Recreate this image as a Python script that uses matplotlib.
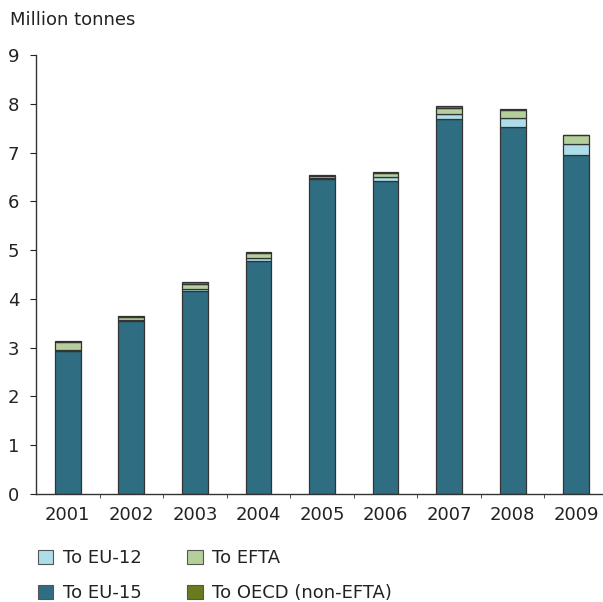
import matplotlib
matplotlib.use("Agg")
import matplotlib.pyplot as plt
from matplotlib.patches import Patch
from matplotlib.ticker import FixedLocator
import numpy as np

years = ["2001", "2002", "2003", "2004", "2005", "2006", "2007", "2008", "2009"]
eu15 = [2.94, 3.55, 4.16, 4.77, 6.45, 6.41, 7.69, 7.53, 6.95]
eu12 = [0.01, 0.01, 0.05, 0.06, 0.02, 0.09, 0.11, 0.17, 0.22]
efta = [0.17, 0.07, 0.09, 0.12, 0.05, 0.09, 0.12, 0.17, 0.18]
oecd = [0.02, 0.02, 0.04, 0.01, 0.02, 0.01, 0.03, 0.03, 0.02]
series_labels = ["To EU-15", "To EU-12", "To EFTA", "To OECD (non-EFTA)"]
colors = ["#2F6E82", "#ADDDE8", "#B5CF9A", "#6A7A1F"]

plt.rcParams['font.family'] = ['DejaVu Sans']
fig = plt.figure(figsize=(6.03, 6.02), dpi=100)
W, H = 603, 602
ax = fig.add_axes([36 / W, 1 - 494 / H, (608 - 36) / W, (494 - 55) / H])

x = np.arange(len(years))
bottom = np.zeros(len(years))
for vals, lab, col in zip([eu15, eu12, efta, oecd], series_labels, colors):
    vals = np.array(vals)
    ax.bar(x, vals, 0.405, bottom=bottom, color=col, edgecolor="#333333",
           linewidth=0.9, label=lab)
    bottom += vals

fs = 13
ax.set_xlim(-0.5, len(years) - 0.5)
ax.set_ylim(0, 9)
ax.set_yticks(range(0, 10))
ax.set_xticks(x)
ax.set_xticklabels(years)
ax.xaxis.set_minor_locator(FixedLocator(np.arange(0.5, len(years) - 0.5, 1)))
ax.tick_params(axis='x', which='major', length=0, pad=9, labelsize=fs, colors='#222222')
ax.tick_params(axis='x', which='minor', length=3, direction='out', color='#333333')
ax.tick_params(axis='y', length=4, direction='out', pad=8, labelsize=fs, colors='#222222')
for s in ['top', 'right']:
    ax.spines[s].set_visible(False)
for s in ['left', 'bottom']:
    ax.spines[s].set_color('#333333')
    ax.spines[s].set_linewidth(1)

fig.text(10 / W, 1 - 20 / H, "Million tonnes", fontsize=fs, va='center', ha='left', color='#222222')

hl = [Patch(facecolor=colors[1], edgecolor='#555555', linewidth=0.8),
      Patch(facecolor=colors[0], edgecolor='#555555', linewidth=0.8),
      Patch(facecolor=colors[2], edgecolor='#555555', linewidth=0.8),
      Patch(facecolor=colors[3], edgecolor='#555555', linewidth=0.8)]
ll = [series_labels[1], series_labels[0], series_labels[2], series_labels[3]]
fig.legend(hl, ll, ncol=2, loc='upper left', bbox_to_anchor=(29 / W, 1 - 540 / H),
           frameon=False, fontsize=fs, handlelength=0.85, handleheight=0.85,
           handletextpad=0.55, labelspacing=0.95, columnspacing=2.5, borderpad=0,
           labelcolor='#222222')

fig.savefig("out.png", dpi=100)
